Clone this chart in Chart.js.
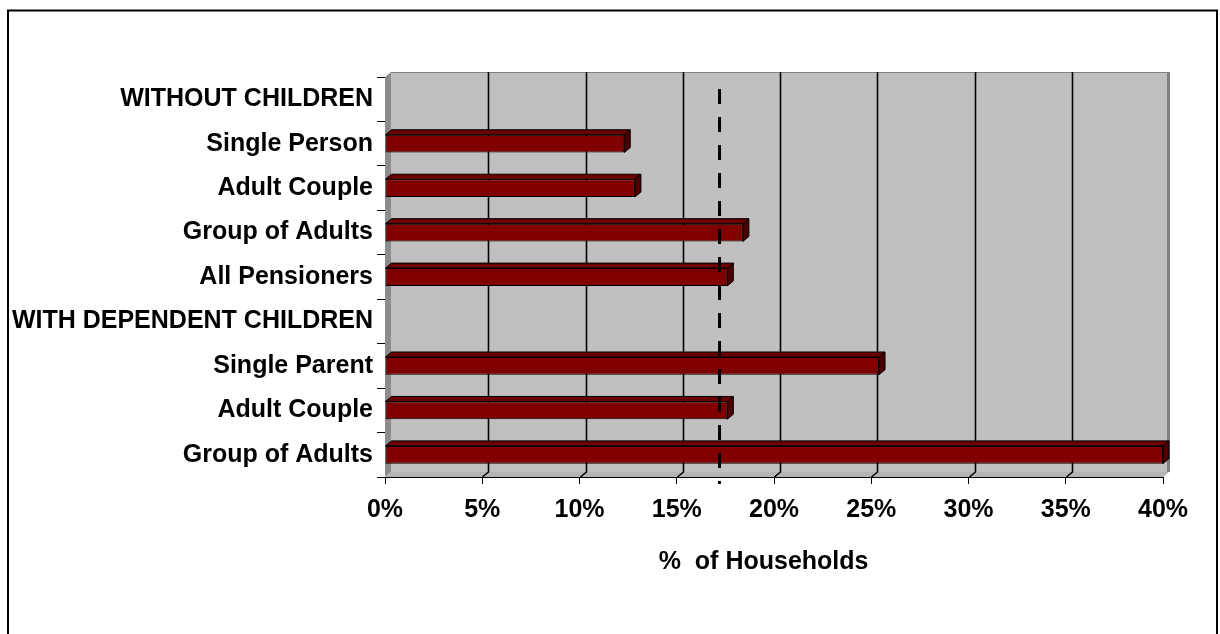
<!DOCTYPE html>
<html>
<head>
<meta charset="utf-8">
<title>% of Households</title>
<script src="https://cdn.jsdelivr.net/npm/chart.js@4.4.1/dist/chart.umd.min.js"></script>
<style>
  html, body { margin: 0; padding: 0; background: #fff; }
  canvas { display: block; }
</style>
</head>
<body>
<canvas id="householdChart" width="1220" height="634"></canvas>
<script>
// Household types, top to bottom
const categories = [
  'WITHOUT CHILDREN',
  'Single Person',
  'Adult Couple',
  'Group of Adults',
  'All Pensioners',
  'WITH DEPENDENT CHILDREN',
  'Single Parent',
  'Adult Couple',
  'Group of Adults'
];

// % of households (headings have no bar)
const shares = [null, 12.3, 12.85, 18.4, 17.6, null, 25.4, 17.6, 40.0];

const xTickLabels = ['0%', '5%', '10%', '15%', '20%', '25%', '30%', '35%', '40%'];
const referenceLevel = 17.2;
const axisTitle = '%  of Households   ';

// fake 3D depth, in pixels
const DEPTH_X = 6;
const DEPTH_Y = -5;

Chart.defaults.font.family = '"Liberation Sans", Arial, sans-serif';
Chart.defaults.font.size = 25;
Chart.defaults.font.weight = 'bold';
Chart.defaults.color = '#000';

const wallsPlugin = {
  id: 'walls',
  beforeDraw: function(chart) {
    const ctx = chart.ctx;
    const a = chart.chartArea;
    const xs = chart.scales.x;
    ctx.save();

    // outer frame
    ctx.strokeStyle = '#000';
    ctx.lineWidth = 2;
    ctx.strokeRect(8, 10.5, 1209, 800);

    // back wall
    ctx.fillStyle = '#c0c0c0';
    ctx.fillRect(a.left + DEPTH_X, a.top + DEPTH_Y, a.right - a.left, a.bottom - a.top);
    ctx.strokeStyle = '#808080';
    ctx.lineWidth = 1;
    ctx.beginPath();
    ctx.moveTo(a.left + DEPTH_X, a.top + DEPTH_Y + 0.5);
    ctx.lineTo(a.right + DEPTH_X, a.top + DEPTH_Y + 0.5);
    ctx.stroke();
    ctx.fillStyle = '#808080';
    ctx.fillRect(a.right + DEPTH_X - 2, a.top + DEPTH_Y, 3, a.bottom - a.top);

    // left wall
    ctx.beginPath();
    ctx.moveTo(a.left, a.top);
    ctx.lineTo(a.left + DEPTH_X, a.top + DEPTH_Y);
    ctx.lineTo(a.left + DEPTH_X, a.bottom + DEPTH_Y);
    ctx.lineTo(a.left, a.bottom);
    ctx.closePath();
    ctx.fillStyle = '#8c8c8c';
    ctx.fill();

    // floor
    ctx.beginPath();
    ctx.moveTo(a.left, a.bottom);
    ctx.lineTo(a.left + DEPTH_X, a.bottom + DEPTH_Y);
    ctx.lineTo(a.right + DEPTH_X, a.bottom + DEPTH_Y);
    ctx.lineTo(a.right, a.bottom);
    ctx.closePath();
    ctx.fillStyle = '#b4b4b4';
    ctx.fill();

    // gridlines on the back wall, running down over the floor
    ctx.strokeStyle = '#000';
    ctx.lineWidth = 1.6;
    xs.ticks.forEach(function(t) {
      if (t.value <= xs.min || t.value >= xs.max) return;
      const px = Math.round(xs.getPixelForValue(t.value)) + 0.5;
      ctx.beginPath();
      ctx.moveTo(px + DEPTH_X, a.top + DEPTH_Y);
      ctx.lineTo(px + DEPTH_X, a.bottom + DEPTH_Y);
      ctx.lineTo(px, a.bottom);
      ctx.stroke();
    });
    ctx.restore();
  }
};

const barDepthPlugin = {
  id: 'barDepth',
  afterDatasetsDraw: function(chart) {
    const ctx = chart.ctx;
    const a = chart.chartArea;
    const meta = chart.getDatasetMeta(0);
    ctx.save();
    ctx.strokeStyle = '#000';
    ctx.lineWidth = 1;
    ctx.lineJoin = 'miter';

    meta.data.forEach(function(bar, i) {
      if (shares[i] == null) return;
      const p = bar.getProps(['x', 'y', 'base', 'height'], true);
      const top = p.y - p.height / 2;
      const bottom = p.y + p.height / 2;
      const l = p.base;
      const r = p.x;

      // top face
      ctx.beginPath();
      ctx.moveTo(l, top);
      ctx.lineTo(l + DEPTH_X, top + DEPTH_Y);
      ctx.lineTo(r + DEPTH_X, top + DEPTH_Y);
      ctx.lineTo(r, top);
      ctx.closePath();
      ctx.fillStyle = '#6a0000';
      ctx.fill();
      ctx.stroke();

      // end face
      ctx.beginPath();
      ctx.moveTo(r, top);
      ctx.lineTo(r + DEPTH_X, top + DEPTH_Y);
      ctx.lineTo(r + DEPTH_X, bottom + DEPTH_Y);
      ctx.lineTo(r, bottom);
      ctx.closePath();
      ctx.fillStyle = '#4a0000';
      ctx.fill();
      ctx.stroke();
    });

    // dashed reference line
    const rx = chart.scales.x.getPixelForValue(referenceLevel);
    ctx.beginPath();
    ctx.setLineDash([15, 13]);
    ctx.lineDashOffset = 15;
    ctx.lineWidth = 3;
    ctx.moveTo(rx, a.top - 1);
    ctx.lineTo(rx, a.bottom + 7);
    ctx.stroke();
    ctx.restore();
  }
};

new Chart(document.getElementById('householdChart'), {
  type: 'bar',
  data: {
    labels: categories,
    datasets: [{
      data: shares,
      backgroundColor: '#800000',
      borderColor: '#000',
      borderWidth: 1,
      borderSkipped: false,
      barPercentage: 1,
      categoryPercentage: 0.4
    }]
  },
  options: {
    indexAxis: 'y',
    responsive: false,
    animation: false,
    devicePixelRatio: 1,
    layout: {
      padding: { top: 77, right: 57, bottom: 0, left: 0 }
    },
    plugins: {
      legend: { display: false },
      tooltip: { enabled: false }
    },
    scales: {
      x: {
        min: 0,
        max: 40,
        afterFit: function(scale) { scale.height = 157; },
        grid: { drawOnChartArea: false, drawTicks: true, tickLength: 7, color: '#000' },
        border: { display: true, color: '#000', width: 1 },
        ticks: {
          stepSize: 5,
          padding: 11,
          maxRotation: 0,
          callback: function(value, index) { return xTickLabels[index]; }
        },
        title: {
          display: true,
          text: axisTitle,
          padding: { top: 0, bottom: 57 }
        }
      },
      y: {
        afterFit: function(scale) { scale.width = 385; },
        grid: { drawOnChartArea: false, drawTicks: true, tickLength: 8, color: '#000', offset: true },
        border: { display: false },
        ticks: { padding: 4, autoSkip: false }
      }
    }
  },
  plugins: [wallsPlugin, barDepthPlugin]
});
</script>
</body>
</html>
